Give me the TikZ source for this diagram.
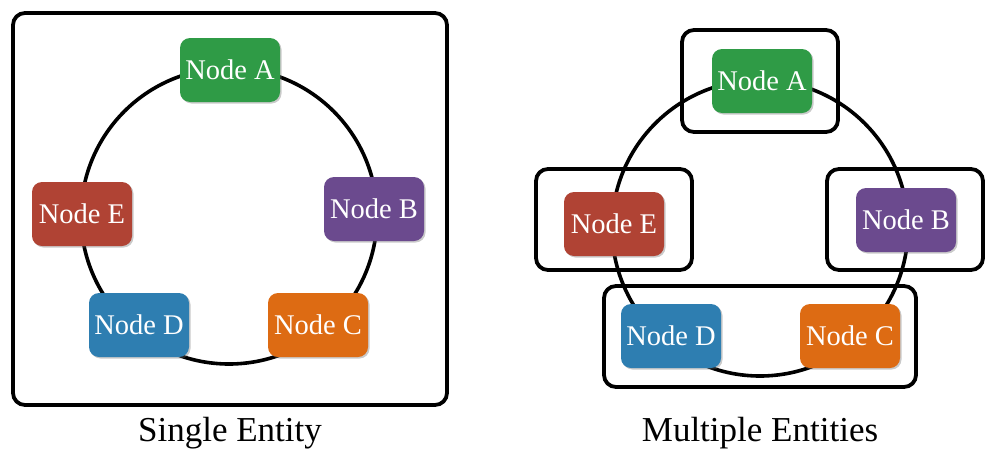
\documentclass[tikz,border=0pt]{standalone}
\usepackage{fontspec}
\setmainfont{Liberation Serif}
\usetikzlibrary{shadows}
\definecolor{cA}{HTML}{2F9B46}
\definecolor{cB}{HTML}{6B4A8E}
\definecolor{cC}{HTML}{DD6B13}
\definecolor{cD}{HTML}{2E7EB1}
\definecolor{cE}{HTML}{B04334}
\tikzset{
  nodebox/.style={rounded corners=10pt, minimum width=100pt, minimum height=64pt,
    inner sep=0pt, text=white, font=\rmfamily\fontsize{28.5}{32}\selectfont,
    drop shadow={shadow xshift=1.5pt, shadow yshift=-1.5pt, opacity=0.35, fill=black!60}},
  ring/.style={circle, draw=black, line width=3.6pt, inner sep=0pt, minimum size=296pt},
  groupbox/.style={draw=black, line width=3.8pt, rounded corners=12pt, inner sep=0pt},
  caption/.style={font=\rmfamily\fontsize{35}{40}\selectfont, text=black}
}
\begin{document}
\begin{tikzpicture}[x=1pt,y=-1pt]
\useasboundingbox (0,0) rectangle (1000,474);
% left panel
\node[groupbox, minimum width=434pt, minimum height=392pt] (frameL) at (230,209) {};
\node[ring] (ringL) at (229,216) {};
\node[nodebox, fill=cA] (LA) at (230,70) {Node A};
\node[nodebox, fill=cB] (LB) at (374,209) {Node B};
\node[nodebox, fill=cC] (LC) at (318,325) {Node C};
\node[nodebox, fill=cD] (LD) at (139,325) {Node D};
\node[nodebox, fill=cE] (LE) at (82,214) {Node E};
\node[caption] (capL) at (230,433) {Single Entity};
% right panel
\node[ring] (ringR) at (760,228) {};
\node[groupbox, minimum width=156pt, minimum height=102pt] (gA) at (760,81) {};
\node[groupbox, minimum width=156pt, minimum height=101pt] (gE) at (614,219.5) {};
\node[groupbox, minimum width=156pt, minimum height=101pt] (gB) at (905,219.5) {};
\node[groupbox, minimum width=312pt, minimum height=101pt] (gDC) at (760,336.5) {};
\node[nodebox, fill=cA] (RA) at (762,81) {Node A};
\node[nodebox, fill=cB] (RB) at (906,220) {Node B};
\node[nodebox, fill=cC] (RC) at (850,336) {Node C};
\node[nodebox, fill=cD] (RD) at (671,336) {Node D};
\node[nodebox, fill=cE] (RE) at (614,224) {Node E};
\node[caption] (capR) at (760,433) {Multiple Entities};
\end{tikzpicture}
\end{document}
